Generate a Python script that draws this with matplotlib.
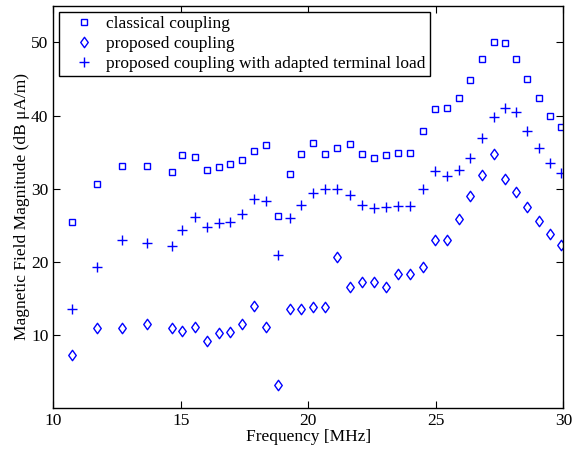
import numpy as np
import matplotlib
matplotlib.use("Agg")
import matplotlib.pyplot as plt
from matplotlib.path import Path

# frequencies (MHz) shared by all three measurements
freq = [10.72, 11.70, 12.68, 13.66, 14.64, 15.05, 15.57, 16.04, 16.50, 16.91,
        17.40, 17.86, 18.34, 18.80, 19.27, 19.73, 20.20, 20.67, 21.14, 21.62,
        22.12, 22.58, 23.05, 23.52, 24.00, 24.49, 24.96, 25.44, 25.91, 26.35,
        26.82, 27.29, 27.73, 28.16, 28.59, 29.04, 29.47, 29.90]

classical = [25.5, 30.6, 33.1, 33.1, 32.3, 34.6, 34.4, 32.6, 33.0, 33.4,
             33.9, 35.2, 36.0, 26.3, 32.0, 34.7, 36.3, 34.7, 35.6, 36.1,
             34.8, 34.2, 34.6, 34.9, 34.9, 37.9, 40.9, 41.0, 42.4, 44.9,
             47.8, 50.1, 49.9, 47.7, 45.0, 42.4, 40.0, 38.4]

proposed = [7.2, 11.0, 11.0, 11.5, 11.0, 10.5, 11.1, 9.2, 10.3, 10.4,
            11.5, 14.0, 11.1, 3.1, 13.5, 13.6, 13.8, 13.8, 20.7, 16.6,
            17.3, 17.3, 16.6, 18.3, 18.3, 19.3, 23.0, 23.0, 25.9, 29.0,
            31.9, 34.7, 31.3, 29.6, 27.5, 25.6, 23.8, 22.3]

adapted = [13.5, 19.3, 23.0, 22.6, 22.2, 24.4, 26.1, 24.8, 25.3, 25.5,
           26.6, 28.6, 28.3, 20.9, 26.0, 27.8, 29.4, 29.9, 29.9, 29.2,
           27.8, 27.3, 27.5, 27.7, 27.7, 29.9, 32.4, 31.8, 32.5, 34.2,
           37.0, 39.8, 41.0, 40.5, 37.9, 35.6, 33.5, 32.1]

labels = ["classical coupling", "proposed coupling",
          "proposed coupling with adapted terminal load"]

plt.rcParams['font.family'] = ['Liberation Serif', 'DejaVu Serif']
fs = 12.5

fig = plt.figure(figsize=(5.79, 4.5), dpi=100)
ax = fig.add_axes([0.092, 0.093, 0.881, 0.894])

blue = '#0000ff'
# matlab-style diamond, a bit taller than wide
diamond = Path([(0, 1), (0.72, 0), (0, -1), (-0.72, 0), (0, 1)],
               [Path.MOVETO, Path.LINETO, Path.LINETO, Path.LINETO, Path.CLOSEPOLY])

ax.plot(freq, classical, 's', ms=5, mfc='none', mec=blue, mew=1.0, label=labels[0])
ax.plot(freq, proposed, marker=diamond, ls='none', ms=7.5, mfc='none', mec=blue, mew=1.0,
        label=labels[1])
ax.plot(freq, adapted, '+', ms=6.5, color=blue, mew=1.0, label=labels[2])

ax.set_xlim(10, 30)
ax.set_ylim(0, 55)
ax.set_xticks([10, 15, 20, 25, 30])
ax.set_yticks([10, 20, 30, 40, 50])
ax.tick_params(direction='in', top=True, right=True, labelsize=fs, length=5, width=0.8)
for s in ax.spines.values():
    s.set_linewidth(1.0)

ax.set_xlabel('Frequency [MHz]', fontsize=fs, labelpad=0)
ax.set_ylabel('Magnetic Field Magnitude (dB \u03bcA/m)', fontsize=fs, labelpad=1)

leg = ax.legend(loc='upper left', fontsize=fs, frameon=True, fancybox=False,
                edgecolor='black', framealpha=1, borderpad=0.25, labelspacing=0.2,
                handletextpad=0.15, borderaxespad=0.35, handlelength=2.3)
leg.get_frame().set_linewidth(1.0)

fig.savefig('out.png', dpi=100)
